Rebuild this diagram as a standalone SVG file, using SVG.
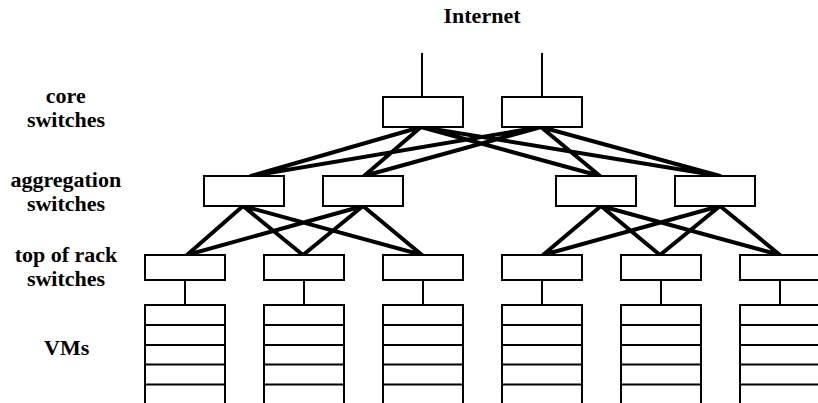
<svg xmlns="http://www.w3.org/2000/svg" width="818" height="403" viewBox="0 0 818 403">
<defs>
<path id="vmstack" d="M0 305V403M80 305V403M-1 305H81M-1 325H81M-1 345H81M-1 364.5H81M-1 384.5H81"/>
</defs>
<rect width="818" height="403" fill="#fff"/>
<g id="labels" font-weight="bold" font-size="22" font-family="Times New Roman, Liberation Serif, Tinos, Times, serif" fill="#000">
<text x="443.5" y="23">Internet</text>
<text x="45.8" y="103">core</text>
<text x="26.9" y="127">switches</text>
<text x="10.4" y="187">aggregation</text>
<text x="26.9" y="211">switches</text>
<text x="14.7" y="262">top of rack</text>
<text x="26.9" y="286">switches</text>
<text x="44" y="355">VMs</text>
</g>
<g id="connectors" stroke="#000" fill="none">
<g stroke-width="2">
<line x1="422" y1="53" x2="422" y2="97"/>
<line x1="542" y1="53" x2="542" y2="97"/>
<path d="M185 280V305M304 280V305M423 280V305M542 280V305M661 280V305M780 280V305"/>
</g>
<g stroke-width="4" stroke-linecap="round">
<path d="M421 127L251 176M421 127L364 176M421 127L600 176M421 127L720 176M541 127L251 176M541 127L364 176M541 127L600 176M541 127L720 176"/>
<path d="M243 206L187 255M243 206L303 255M243 206L422 255M363 206L187 255M363 206L303 255M363 206L422 255"/>
<path d="M601 206L543 255M601 206L660 255M601 206L780 255M720 206L543 255M720 206L660 255M720 206L780 255"/>
</g>
</g>
<g fill="#fff" stroke="#000" stroke-width="2">
<g id="core1"><rect x="383" y="97" width="80" height="30"/></g>
<g id="core2"><rect x="502" y="97" width="80" height="30"/></g>
<g id="agg1"><rect x="204" y="176" width="80" height="30"/></g>
<g id="agg2"><rect x="323" y="176" width="80" height="30"/></g>
<g id="agg3"><rect x="556" y="176" width="80" height="30"/></g>
<g id="agg4"><rect x="675" y="176" width="80" height="30"/></g>
<g id="tor1"><rect x="145" y="255" width="80" height="25"/></g>
<g id="tor2"><rect x="264" y="255" width="80" height="25"/></g>
<g id="tor3"><rect x="383" y="255" width="80" height="25"/></g>
<g id="tor4"><rect x="502" y="255" width="80" height="25"/></g>
<g id="tor5"><rect x="621" y="255" width="80" height="25"/></g>
<g id="tor6"><rect x="740" y="255" width="80" height="25"/></g>
</g>
<g fill="none" stroke="#000" stroke-width="2">
<g id="vms1"><use href="#vmstack" x="145"/></g>
<g id="vms2"><use href="#vmstack" x="264"/></g>
<g id="vms3"><use href="#vmstack" x="383"/></g>
<g id="vms4"><use href="#vmstack" x="502"/></g>
<g id="vms5"><use href="#vmstack" x="621"/></g>
<g id="vms6"><use href="#vmstack" x="740"/></g>
</g>
</svg>
